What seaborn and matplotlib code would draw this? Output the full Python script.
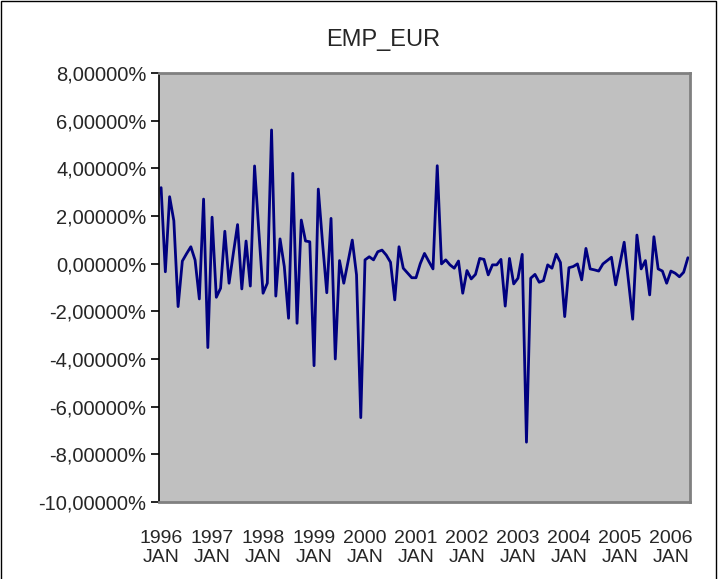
import numpy as np
import pandas as pd
import matplotlib
matplotlib.use("Agg")
import matplotlib.pyplot as plt
from matplotlib.patches import Rectangle
import seaborn as sns

# monthly EMP_EUR values in percent, 1996 JAN .. 2006 MAY
emp_1996_1998 = [3.19, -0.34, 2.81, 1.80, -1.80, 0.11, 0.42, 0.71, 0.15, -1.48, 2.71, -3.52,
                 1.95, -1.41, -1.03, 1.36, -0.82, 0.43, 1.64, -1.06, 0.95, -0.94, 4.10, 1.37,
                 -1.24, -0.82, 5.61, -1.36, 1.04, -0.12, -2.29, 3.79, -2.50, 1.83, 0.95, 0.92]
emp_1999_2001 = [-4.28, 3.13, 0.88, -1.22, 1.90, -4.00, 0.13, -0.82, 0.08, 0.99, -0.47, -6.46,
                 0.16, 0.29, 0.16, 0.50, 0.57, 0.36, 0.06, -1.52, 0.71, -0.19, -0.39, -0.59,
                 -0.59, 0.00, 0.43, 0.10, -0.22, 4.11, -0.01, 0.16, -0.05, -0.19, 0.11, -1.24]
emp_2002_2004 = [-0.29, -0.64, -0.45, 0.22, 0.18, -0.47, -0.05, -0.05, 0.18, -1.78, 0.22, -0.85,
                 -0.61, 0.39, -7.49, -0.61, -0.45, -0.78, -0.71, -0.05, -0.19, 0.40, 0.05, -2.22,
                 -0.17, -0.12, -0.01, -0.68, 0.64, -0.22, -0.26, -0.31, -0.01, 0.13, 0.27, -0.89]
emp_2005_2006 = [0.00, 0.90, -0.71, -2.33, 1.20, -0.22, 0.13, -1.31, 1.13, -0.22, -0.31, -0.82,
                 -0.31, -0.40, -0.55, -0.36, 0.25]
emp_eur = emp_1996_1998 + emp_1999_2001 + emp_2002_2004 + emp_2005_2006

years = list(range(1996, 2007))
x_labels = [f"{y}\nJAN" for y in years]
y_ticks = [-10, -8, -6, -4, -2, 0, 2, 4, 6, 8]

df = pd.DataFrame({"month": np.arange(len(emp_eur)), "emp": emp_eur})

sns.set_style("white")
plt.rcParams["font.family"] = ["Liberation Sans", "DejaVu Sans"]

fig = plt.figure(figsize=(7.19, 5.79), dpi=100)
ax = fig.add_axes([0.2211, 0.1330, 0.7386, 0.7409])
ax.set_facecolor("#C0C0C0")

sns.lineplot(data=df, x="month", y="emp", ax=ax, color="#000080", linewidth=2.0)

ax.set_xlim(-0.5, len(emp_eur) - 0.5)
ax.set_ylim(-10, 8)
ax.set_yticks(y_ticks)
ax.set_yticklabels([f"{v:.5f}%".replace(".", ",") for v in y_ticks], fontsize=14.5)
ax.set_xticks([12 * i for i in range(len(years))])
ax.set_xticklabels(x_labels, fontsize=14, linespacing=1.2)
ax.tick_params(axis="x", length=0, pad=20)
ax.tick_params(axis="y", length=6, width=1.2, color="black", pad=3, left=True)
ax.set_xlabel("")
ax.set_ylabel("")
fig.text(0.533, 0.931, "EMP_EUR", fontsize=17, ha="center", va="center")

for side in ["top", "right", "bottom"]:
    ax.spines[side].set_color("#808080")
    ax.spines[side].set_linewidth(2)
ax.spines["left"].set_color("black")
ax.spines["left"].set_linewidth(1.2)

# chart area border
fig.patches.append(Rectangle((0.002, -0.05), 0.994, 1.048, transform=fig.transFigure,
                             fill=False, edgecolor="black", linewidth=1.0))

fig.savefig("out.png", dpi=100)
